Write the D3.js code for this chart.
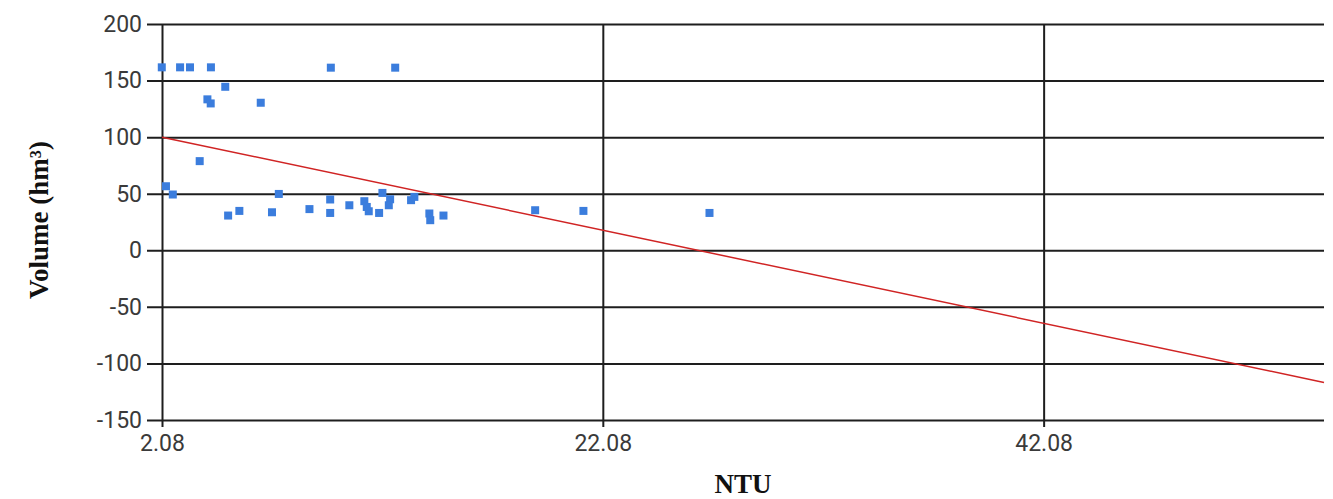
<!DOCTYPE html>
<html>
<head>
<meta charset="utf-8">
<script src="https://cdn.jsdelivr.net/npm/d3@7"></script>
<style>
  body { margin: 0; background: #fff; }
  .tick text { font-family: Roboto, "Liberation Sans", sans-serif; font-size: 23px; fill: #3a3a3a; }
</style>
</head>
<body>
<div id="chart"></div>
<script>
// scatter data
var ntu = [2.07, 2.9, 3.35, 4.3, 4.95, 4.14, 4.29, 6.56, 3.79, 9.74, 12.66,
           2.26, 2.57, 5.08, 5.59, 7.07, 7.38, 8.77, 9.71, 9.71, 10.58, 11.26,
           11.37, 11.46, 11.93, 12.08, 12.43, 12.37, 13.38, 13.53, 14.21, 14.25,
           14.85, 19.01, 21.2, 26.92];
var volume = [161.7, 161.7, 161.7, 161.7, 144.5, 133.4, 129.8, 130.4, 78.8, 161.4, 161.4,
              56.6, 49.3, 30.7, 34.8, 33.6, 49.8, 36.4, 44.9, 33, 39.8, 43.4,
              38.3, 34.5, 33, 50.7, 45.1, 39.8, 44.3, 47.2, 32.5, 26.6,
              30.7, 35.4, 34.8, 33];
// trend line ends
var trendX = [2.08, 54.8];
var trendY = [100, -116.8];
var xTicks = [2.08, 22.08, 42.08];
var yTicks = [-150, -100, -50, 0, 50, 100, 150, 200];

var W = 1333, H = 499;
var margin = {top: 24, right: 9, bottom: 79, left: 162},
    width = W - margin.left - margin.right,
    height = H - margin.top - margin.bottom;

var svg = d3.select("#chart").append("svg")
    .attr("width", W)
    .attr("height", H)
  .append("g")
    .attr("transform", "translate(" + margin.left + "," + margin.top + ")");

var x = d3.scaleLinear().domain([2.08, 54.8]).range([0, width]);
var y = d3.scaleLinear().domain([-150, 200]).range([height, 0]);

// y axis + horizontal grid (plain hyphen for negatives, like the original)
var gy = svg.append("g")
    .call(d3.axisLeft(y).tickValues(yTicks).tickFormat(function(d) { return String(d); })
      .tickSizeInner(-width).tickSizeOuter(0).tickPadding(20));
gy.select(".domain").remove();
gy.selectAll(".tick line").attr("x1", -15).attr("stroke", "#1e1e1e").attr("stroke-width", 2);

// x axis + vertical grid
var gx = svg.append("g")
    .attr("transform", "translate(0," + height + ")")
    .call(d3.axisBottom(x).tickValues(xTicks).tickFormat(d3.format(".2f"))
      .tickSizeInner(-height).tickSizeOuter(0).tickPadding(15));
gx.select(".domain").remove();
gx.selectAll(".tick line").attr("y1", 7).attr("stroke", "#1e1e1e").attr("stroke-width", 2);

// points
svg.selectAll("rect.pt")
  .data(ntu)
  .enter().append("rect")
    .attr("class", "pt")
    .attr("x", function(d) { return x(d) - 4; })
    .attr("y", function(d, i) { return y(volume[i]) - 4; })
    .attr("width", 8)
    .attr("height", 8)
    .attr("fill", "#3b7ddd");

// trend line
svg.append("path")
    .datum(trendX.map(function(d, i) { return [d, trendY[i]]; }))
    .attr("fill", "none")
    .attr("stroke", "#d02424")
    .attr("stroke-width", 1.5)
    .attr("d", d3.line().x(function(d) { return x(d[0]); }).y(function(d) { return y(d[1]); }));

// axis titles
svg.append("text")
    .attr("x", width / 2)
    .attr("y", H - margin.top - 6)
    .attr("text-anchor", "middle")
    .style("font-family", "'Liberation Serif', 'Times New Roman', serif")
    .style("font-weight", "bold")
    .style("font-size", "27px")
    .style("fill", "#111")
    .text("NTU");

svg.append("text")
    .attr("transform", "translate(" + (48 - margin.left) + "," + (220 - margin.top) + ") rotate(-90)")
    .attr("text-anchor", "middle")
    .style("font-family", "'Liberation Serif', 'Times New Roman', serif")
    .style("font-weight", "bold")
    .style("font-size", "27px")
    .style("fill", "#111")
    .text("Volume (hm³)");
</script>
</body>
</html>
